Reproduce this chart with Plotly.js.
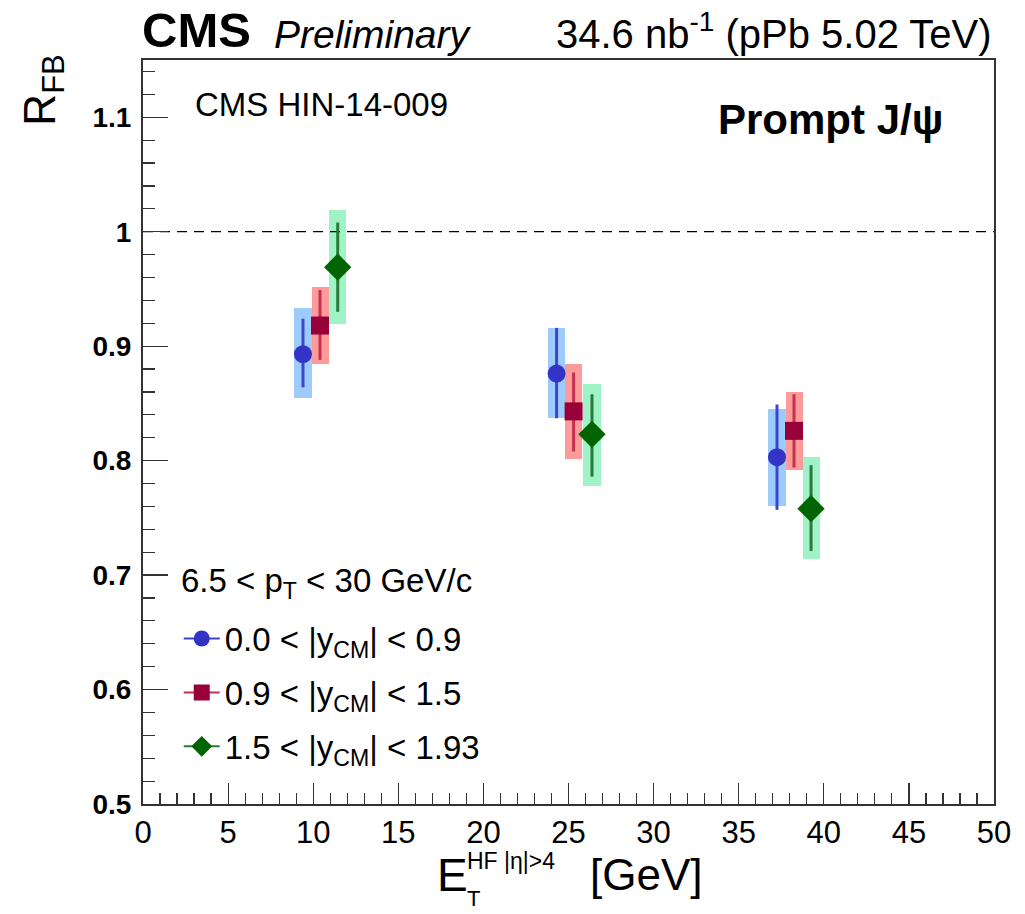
<!DOCTYPE html>
<html>
<head>
<meta charset="utf-8">
<script src="https://cdn.plot.ly/plotly-3.0.1.min.js"></script>
<style>html,body{margin:0;padding:0;background:#fff;}#chart{width:1025px;height:914px;}</style>
</head>
<body>
<div id="chart"></div>
<script>
// Series: three |y_CM| bins of prompt J/psi R_FB vs E_T^HF
const seriesNames = ["0.0 < |y<sub>CM</sub>| < 0.9", "0.9 < |y<sub>CM</sub>| < 1.5", "1.5 < |y<sub>CM</sub>| < 1.93"];
const xBlue  = [9.4, 24.3, 37.25];
const yBlue  = [0.893, 0.876, 0.803];
const statLoBlue = [0.864, 0.837, 0.757];
const statHiBlue = [0.924, 0.916, 0.849];
const sysLoBlue  = [0.855, 0.837, 0.760];
const sysHiBlue  = [0.933, 0.916, 0.845];

const xRed  = [10.4, 25.3, 38.25];
const yRed  = [0.918, 0.843, 0.826];
const statLoRed = [0.888, 0.808, 0.794];
const statHiRed = [0.949, 0.877, 0.858];
const sysLoRed  = [0.884, 0.801, 0.792];
const sysHiRed  = [0.952, 0.884, 0.860];

const xGreen  = [11.44, 26.38, 39.25];
const yGreen  = [0.969, 0.823, 0.758];
const statLoGreen = [0.930, 0.786, 0.721];
const statHiGreen = [1.008, 0.858, 0.796];
const sysLoGreen  = [0.919, 0.778, 0.714];
const sysHiGreen  = [1.019, 0.867, 0.803];

const boxWidth = 1.0;
const refLine = 1.0;

const FONT = "Liberation Sans, Arial, Helvetica, sans-serif";

function sysBox(x, lo, hi, color) {
  return {
    type: 'bar', x: x, base: lo, y: hi.map((h, i) => h - lo[i]),
    width: x.map(() => boxWidth), marker: {color: color, line: {width: 0}},
    showlegend: false, hoverinfo: 'skip'
  };
}
function statPts(x, y, lo, hi, lineColor, mColor, symbol, size) {
  return {
    type: 'scatter', mode: 'markers', x: x, y: y,
    error_y: {type: 'data', symmetric: false,
      array: hi.map((h, i) => h - y[i]), arrayminus: lo.map((l, i) => y[i] - l),
      color: lineColor, thickness: 3, width: 0},
    marker: {color: mColor, symbol: symbol, size: size},
    showlegend: false
  };
}
function legendEntry(name, lineColor, mColor, symbol, size, group) {
  return {
    type: 'scatter', mode: 'lines+markers', x: [null], y: [null], name: name,
    legendgroup: group,
    line: {color: lineColor, width: 2}, marker: {color: mColor, symbol: symbol, size: size},
    showlegend: true
  };
}

const data = [
  sysBox(xBlue, sysLoBlue, sysHiBlue, '#9dcbfb'),
  sysBox(xRed, sysLoRed, sysHiRed, '#fd9b9b'),
  sysBox(xGreen, sysLoGreen, sysHiGreen, '#9ff3c6'),
  {type: 'scatter', mode: 'lines', x: [0, 50], y: [refLine, refLine],
   line: {color: '#000', width: 1.2, dash: '10px,7px'}, showlegend: false, hoverinfo: 'skip'},
  statPts(xBlue, yBlue, statLoBlue, statHiBlue, '#3b45cf', '#3333c8', 'circle', 18),
  statPts(xRed, yRed, statLoRed, statHiRed, '#c4304e', '#98003a', 'square', 18),
  statPts(xGreen, yGreen, statLoGreen, statHiGreen, '#2a7a3a', '#006400', 'diamond', 21),
  legendEntry(seriesNames[0], '#3b45cf', '#3333c8', 'circle', 18, 'a'),
  legendEntry(seriesNames[1], '#c4304e', '#98003a', 'square', 17, 'b'),
  legendEntry(seriesNames[2], '#2a7a3a', '#006400', 'diamond', 20, 'c')
];

const layout = {
  width: 1025, height: 914,
  margin: {l: 143, r: 31, t: 60, b: 110},
  paper_bgcolor: '#fff', plot_bgcolor: '#fff',
  barmode: 'overlay', bargap: 0,
  showlegend: true,
  font: {family: FONT, color: '#000'},
  xaxis: {
    range: [0, 50], dtick: 5, tick0: 0, ticks: 'inside', ticklen: 21, tickwidth: 1.2, tickcolor: '#333',
    minor: {dtick: 1, ticks: 'inside', ticklen: 11, tickwidth: 1.2, tickcolor: '#333'},
    showgrid: false, zeroline: false, showline: true, linecolor: '#333', linewidth: 2, mirror: true,
    tickfont: {size: 31, family: FONT}, ticklabelstandoff: 0
  },
  yaxis: {
    range: [0.5, 1.15], dtick: 0.1, tick0: 0.5, ticks: 'inside', ticklen: 25, tickwidth: 1.2, tickcolor: '#333',
    minor: {dtick: 0.02, ticks: 'inside', ticklen: 12, tickwidth: 1.2, tickcolor: '#333'},
    showgrid: false, zeroline: false, showline: true, linecolor: '#333', linewidth: 2, mirror: true,
    tickfont: {size: 28, family: FONT, weight: 'bold'}, ticklabelstandoff: 4
  },
  legend: {
    x: 0.042, xanchor: 'left', y: 0.26, yanchor: 'top',
    bgcolor: 'rgba(0,0,0,0)', borderwidth: 0,
    font: {size: 33, family: FONT},
    traceorder: 'grouped', tracegroupgap: 8, itemsizing: 'trace', itemwidth: 36
  },
  annotations: [
    {xref: 'paper', yref: 'paper', x: -0.003, y: 1, xanchor: 'left', yanchor: 'bottom', yshift: 1,
     text: '<b>CMS</b>', showarrow: false, font: {size: 49, family: FONT}},
    {xref: 'paper', yref: 'paper', x: 0.152, y: 1, xanchor: 'left', yanchor: 'bottom', yshift: 2,
     text: '<i>Preliminary</i>', showarrow: false, font: {size: 39, family: FONT}},
    {xref: 'paper', yref: 'paper', x: 1, y: 1, xanchor: 'right', yanchor: 'bottom', yshift: 2,
     text: '34.6 nb<sup>-1</sup> (pPb 5.02 TeV)', showarrow: false, font: {size: 40, family: FONT}},
    {xref: 'paper', yref: 'paper', x: 0.059, y: 0.94, xanchor: 'left', yanchor: 'middle',
     text: 'CMS HIN-14-009', showarrow: false, font: {size: 33, family: FONT}},
    {xref: 'paper', yref: 'paper', x: 0.943, y: 0.92, xanchor: 'right', yanchor: 'middle',
     text: '<b>Prompt J/ψ</b>', showarrow: false, font: {size: 42, family: FONT}},
    {xref: 'paper', yref: 'paper', x: 0.042, y: 0.297, xanchor: 'left', yanchor: 'middle',
     text: '6.5 < p<sub>T</sub> < 30 GeV/c', showarrow: false, font: {size: 33, family: FONT}},
    {xref: 'paper', yref: 'paper', x: -0.118, y: 1.01, xanchor: 'center', yanchor: 'top',
     text: 'R<sub>FB</sub>', textangle: -90, showarrow: false, font: {size: 44, family: FONT}},
    {xref: 'paper', yref: 'paper', x: 0.343, y: -0.095, xanchor: 'left', yanchor: 'middle',
     text: 'E', showarrow: false, font: {size: 46, family: FONT}},
    {xref: 'paper', yref: 'paper', x: 0.378, y: -0.076, xanchor: 'left', yanchor: 'middle',
     text: 'HF |η|>4', showarrow: false, font: {size: 23, family: FONT}},
    {xref: 'paper', yref: 'paper', x: 0.378, y: -0.127, xanchor: 'left', yanchor: 'middle',
     text: 'T', showarrow: false, font: {size: 22, family: FONT}},
    {xref: 'paper', yref: 'paper', x: 0.523, y: -0.095, xanchor: 'left', yanchor: 'middle',
     text: '[GeV]', showarrow: false, font: {size: 44, family: FONT}}
  ]
};

Plotly.newPlot('chart', data, layout, {displayModeBar: false, staticPlot: true});
</script>
</body>
</html>
